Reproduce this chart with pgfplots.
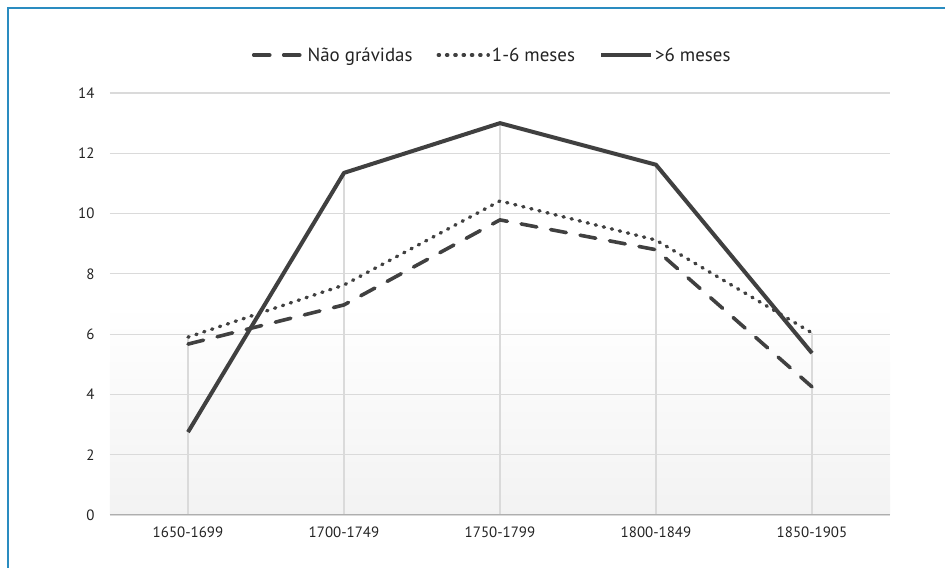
\documentclass[border=0pt]{standalone}
\usepackage{pgfplots}
\pgfplotsset{compat=1.18}
\usepackage{fontspec}
\setmainfont{PT Sans}

\definecolor{framebl}{RGB}{42,140,192}
\definecolor{ink}{RGB}{64,64,64}
\definecolor{txt}{RGB}{35,35,35}
\definecolor{gridc}{RGB}{218,218,218}

\begin{document}
\begin{tikzpicture}
\begin{axis}[
    name=ax,
    scale only axis,
    width=780bp, height=422bp,
    xmin=-0.5, xmax=4.5,
    ymin=0, ymax=14,
    xtick={0,1,2,3,4},
    xticklabels={1650-1699,1700-1749,1750-1799,1800-1849,1850-1905},
    ytick={0,2,...,14},
    axis line style={draw=none},
    major tick length=0pt,
    ymajorgrids,
    grid style={gridc, line width=1.2bp},
    axis background/.style={shade, top color=white, bottom color=black!5, middle color=white},
    /pgf/number format/assume math mode=true,
    tick label style={font=\fontsize{15}{18}\selectfont, text=txt},
    yticklabel style={xshift=-12bp},
    xticklabel style={yshift=-8bp},
    legend style={draw=none, fill=none, at={(axis description cs:0.49,1.09)}, anchor=center,
        font=\fontsize{19}{22}\selectfont, text=txt, legend columns=-1,
        /tikz/every even column/.append style={column sep=22bp}},
    legend image code/.code={\draw[#1] (0bp,0bp) -- (50bp,0bp);},
]
% drop lines at each period, up to the highest series
\addplot[ycomb, gridc, line width=1.2bp, no marks, forget plot] coordinates {
    (0,5.90) (1,11.35) (2,13.00) (3,11.62) (4,6.04)};
\draw[gridc!80!black, line width=1.2bp] (axis cs:-0.5,0) -- (axis cs:4.5,0);

\addplot[ink, line width=3.6bp, dash pattern=on 16bp off 14bp, line cap=round] coordinates {
    (0,5.67) (1,6.97) (2,9.79) (3,8.80) (4,4.25)};
\addlegendentry{Não grávidas}
\addplot[ink, line width=3.4bp, dash pattern=on 1.2bp off 7.1bp, line cap=round] coordinates {
    (0,5.90) (1,7.63) (2,10.42) (3,9.12) (4,6.04)};
\addlegendentry{1-6 meses}
\addplot[ink, line width=4bp, line join=round] coordinates {
    (0,2.75) (1,11.35) (2,13.00) (3,11.62) (4,5.37)};
\addlegendentry{>6 meses}
\end{axis}
\path[use as bounding box] ([shift={(-110bp,-53bp)}]ax.south west) rectangle ([shift={(835bp,515bp)}]ax.south west);
\draw[framebl, line width=2bp] ([shift={(-102bp,-60bp)}]ax.south west) -- ([shift={(-102bp,507bp)}]ax.south west) -- ([shift={(840bp,507bp)}]ax.south west);
\end{tikzpicture}
\end{document}
